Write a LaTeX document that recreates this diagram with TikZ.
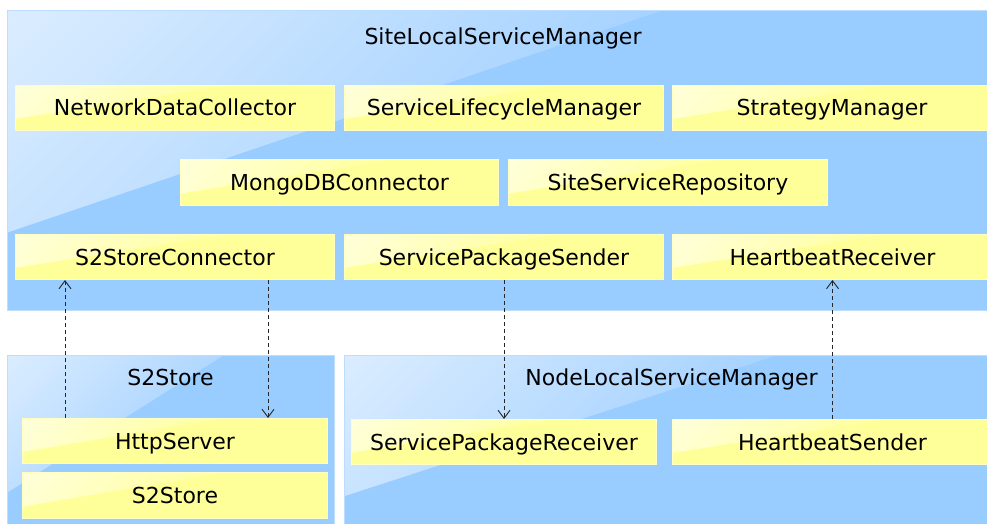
\documentclass[tikz,border=0pt]{standalone}
\usepackage{fontspec}
\setmainfont{DejaVu Sans}
\usetikzlibrary{arrows.meta,calc}

\definecolor{pkgblue}{HTML}{99CCFF}
\definecolor{pkgedge}{HTML}{BCDDFF}
\definecolor{pkghyp}{HTML}{A7D3FF}
\definecolor{pkgcorner}{HTML}{F0F7FF}
\definecolor{compyellow}{HTML}{FFFF99}
\definecolor{compedge}{HTML}{FFFFC4}
\definecolor{comphyp}{HTML}{FFFFA6}
\definecolor{compcorner}{HTML}{FFFFF0}

% sheen gradients: the mid point lies on the diagonal edge, the top on the corner
\pgfdeclareverticalshading{bluesheen}{100bp}{color(0bp)=(pkgblue); color(50bp)=(pkghyp); color(100bp)=(pkgcorner)}
\pgfdeclareverticalshading{yellowsheen}{100bp}{color(0bp)=(compyellow); color(50bp)=(comphyp); color(100bp)=(compcorner)}

\tikzset{
  % diagonal light sheen in the upper-left corner of a box
  gloss/.style={path picture={
    \shade[shading=#1, shading angle=45]
      (path picture bounding box.north west)
      -- ($(path picture bounding box.north west)!0.66!(path picture bounding box.north east)$)
      -- ($(path picture bounding box.north west)!0.74!(path picture bounding box.south west)$)
      -- cycle;}},
  pkg/.style={draw=pkgedge, fill=pkgblue, line width=1pt, gloss=bluesheen,
    inner sep=0pt, anchor=north west},
  comp/.style={draw=compedge, fill=compyellow, line width=1pt, gloss=yellowsheen,
    inner sep=0pt, anchor=north west, minimum height=45pt,
    text height=16pt, text depth=0pt, font=\fontsize{22}{26}\selectfont},
  title/.style={anchor=base, inner sep=0pt, font=\fontsize{22}{26}\selectfont},
  dep/.style={draw=black!85, line width=0.9pt, dash pattern=on 4pt off 3pt,
    -{Straight Barb[length=8pt,width=12pt]}},
}

\begin{document}
\begin{tikzpicture}[x=1pt, y=-1pt]
\useasboundingbox (0,0) rectangle (987,524);

% containers
\node[pkg, minimum width=992pt, minimum height=300pt] (site) at (7,10) {};
\node[title] (sitetitle) at (503,45) {SiteLocalServiceManager};

\node[pkg, minimum width=327pt, minimum height=185pt] (store) at (7,355) {};
\node[title] (storetitle) at (170.5,385) {S2Store};

\node[pkg, minimum width=655pt, minimum height=190pt] (node) at (344,355) {};
\node[title] (nodetitle) at (671.5,385) {NodeLocalServiceManager};

% site components
\node[comp, minimum width=319pt] (ndc) at (15,85) {NetworkDataCollector};
\node[comp, minimum width=319pt] (slm) at (344,85) {ServiceLifecycleManager};
\node[comp, minimum width=319pt] (stm) at (672,85) {StrategyManager};

\node[comp, minimum width=318pt, minimum height=46pt] (mdb) at (180,159) {MongoDBConnector};
\node[comp, minimum width=319pt, minimum height=46pt] (ssr) at (508,159) {SiteServiceRepository};

\node[comp, minimum width=319pt] (s2c) at (15,234) {S2StoreConnector};
\node[comp, minimum width=319pt] (sps) at (344,234) {ServicePackageSender};
\node[comp, minimum width=320pt] (hbr) at (672,234) {HeartbeatReceiver};

% store components
\node[comp, minimum width=305pt] (http) at (22,418) {HttpServer};
\node[comp, minimum width=305pt, minimum height=46pt] (s2s) at (22,472) {S2Store};

% node components
\node[comp, minimum width=305pt] (spr) at (351,419) {ServicePackageReceiver};
\node[comp, minimum width=320pt] (hbs) at (672,419) {HeartbeatSender};

% dependencies
\coordinate (a1) at ([xshift=43pt]http.north west);
\draw[dep] (a1) -- (a1 |- s2c.south);
\coordinate (a2) at ([xshift=253pt]s2c.south west);
\draw[dep] (a2) -- (a2 |- http.north);
\draw[dep] (sps.south) -- (sps.south |- spr.north);
\draw[dep] (hbs.north) -- (hbs.north |- hbr.south);
\end{tikzpicture}
\end{document}
